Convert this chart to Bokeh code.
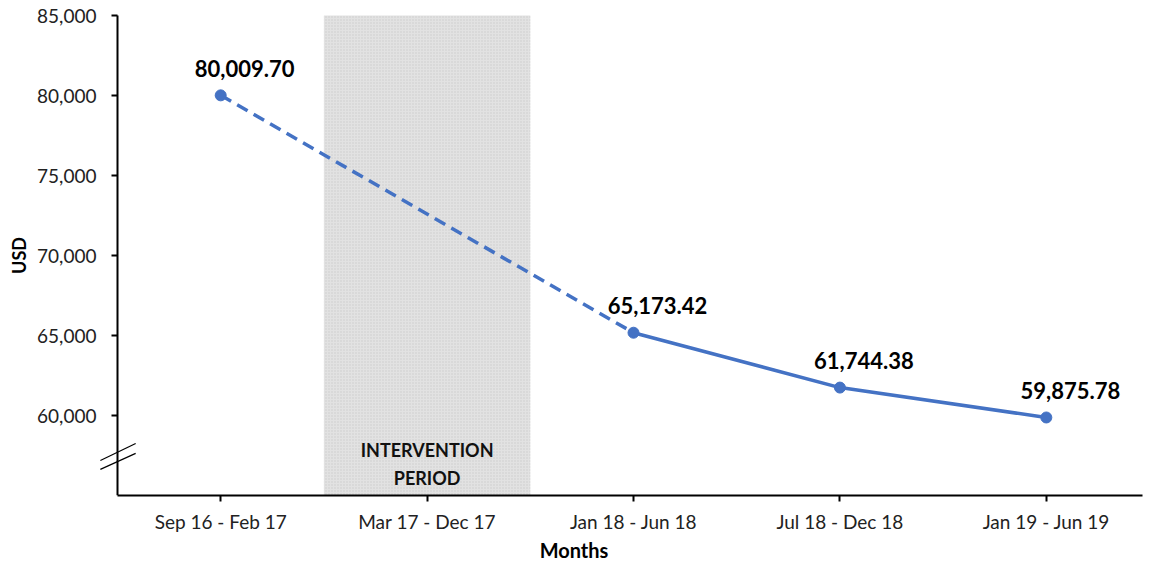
from bokeh.plotting import figure
from bokeh.models import Range1d, FixedTicker, NumeralTickFormatter, ColumnDataSource
from bokeh.core.properties import value
from bokeh.embed import file_html
from bokeh.resources import INLINE

categories = ["Sep 16 - Feb 17", "Mar 17 - Dec 17", "Jan 18 - Jun 18", "Jul 18 - Dec 18", "Jan 19 - Jun 19"]
costs = [80009.70, None, 65173.42, 61744.38, 59875.78]
label_texts = ["80,009.70", "", "65,173.42", "61,744.38", "59,875.78"]
y_ticks = [60000, 65000, 70000, 75000, 80000, 85000]
y_min, y_max = 55000, 85000
intervention_index = 1
intervention_text = "INTERVENTION\nPERIOD"
# axis-break marks (two slanted strokes across the y axis, in data units)
break_x0, break_x1 = -0.083, 0.088
break_y0 = [57190, 56630]
break_y1 = [58250, 57630]

FONT = "Lato"
BLUE = "#4472C4"

xs = [i + 0.5 for i in range(len(categories))]
x_end = 4.966
x_start = -0.5426

p = figure(width=1149, height=564, output_backend="svg", toolbar_location=None,
           x_range=Range1d(x_start, x_end), y_range=Range1d(y_min, y_max + 750),
           min_border_left=5, min_border_right=7, min_border_top=3, min_border_bottom=69)
p.outline_line_color = None
p.grid.visible = False
p.background_fill_color = "white"

# intervention band
p.quad(left=[intervention_index], right=[intervention_index + 1], bottom=[y_min], top=[y_max],
       fill_color="#e2e2e2", line_color=None,
       hatch_pattern="dot", hatch_color="#cbcbcb", hatch_scale=3, hatch_weight=1)
p.text(x=[intervention_index + 0.5], y=[y_min], text=[intervention_text],
       text_font=value(FONT), text_font_style="bold", text_font_size="18px",
       text_align="center", text_baseline="bottom", text_line_height=1.25,
       y_offset=-7, text_color="#111111")

# dashed connection across intervention
known = [(x, c) for x, c in zip(xs, costs) if c is not None]
p.line([known[0][0], known[1][0]], [known[0][1], known[1][1]], line_color=BLUE,
       line_width=3.5, line_dash="12 7")
p.line([k[0] for k in known[1:]], [k[1] for k in known[1:]], line_color=BLUE, line_width=3.5)
p.scatter([k[0] for k in known], [k[1] for k in known], size=11, color=BLUE)

src = ColumnDataSource(dict(x=[x for x, c in zip(xs, costs) if c is not None],
                            y=[c for c in costs if c is not None],
                            t=[t for t, c in zip(label_texts, costs) if c is not None]))
p.text(x="x", y="y", text="t", source=src, x_offset=24, y_offset=-27,
       text_font=value(FONT), text_font_style="bold", text_font_size="22px",
       text_align="center", text_baseline="middle", text_color="black")

# axis break marks
p.segment(x0=[break_x0] * 2, y0=break_y0, x1=[break_x1] * 2, y1=break_y1,
          line_color="black", line_width=1.2)

# axes
p.xaxis.ticker = FixedTicker(ticks=xs)
p.xaxis.major_label_overrides = {x: c for x, c in zip(xs, categories)}
p.xaxis.bounds = (0, x_end)
p.xaxis.minor_tick_line_color = None
p.xaxis.major_tick_in = 0
p.xaxis.major_tick_out = 6
p.yaxis.fixed_location = 0
p.yaxis.bounds = (y_min, y_max)
p.yaxis.ticker = FixedTicker(ticks=y_ticks)
p.yaxis.formatter = NumeralTickFormatter(format="0,0")
p.yaxis.minor_tick_line_color = None
p.yaxis.major_tick_in = 0
p.yaxis.major_tick_out = 6
for ax in (p.xaxis, p.yaxis):
    ax.axis_line_width = 2
    ax.axis_line_color = "black"
    ax.major_tick_line_width = 2
    ax.major_tick_line_color = "black"
    ax.major_label_text_font = FONT
    ax.major_label_text_font_size = "19px"
    ax.major_label_text_color = "#222222"
    ax.axis_label_text_font = FONT
    ax.axis_label_text_font_style = "bold"
    ax.axis_label_text_color = "black"
p.xaxis.major_label_standoff = 8
p.yaxis.major_label_standoff = 15
p.xaxis.axis_label = "Months"
p.xaxis.axis_label_text_font_size = "20px"
p.xaxis.axis_label_standoff = 2
p.yaxis.axis_label = "USD"
p.yaxis.axis_label_text_font_size = "18px"
p.yaxis.axis_label_standoff = 4

open("out.html", "w").write(file_html(p, INLINE))
